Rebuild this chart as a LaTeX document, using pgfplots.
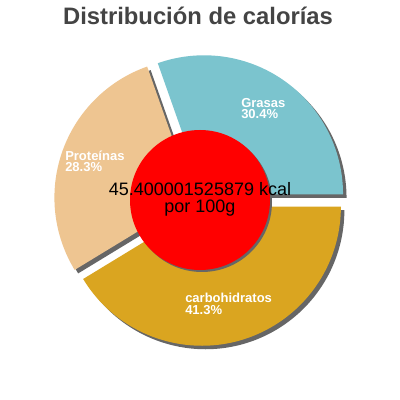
\documentclass[border=0pt]{standalone}
\usepackage{fontspec}
\setmainfont{Liberation Sans}
\usepackage{pgfplots}
\pgfplotsset{compat=1.18}

\definecolor{grasas}{RGB}{123,196,206}
\definecolor{prot}{RGB}{238,197,145}
\definecolor{carb}{RGB}{218,165,32}
\definecolor{shadowc}{RGB}{102,102,102}
\definecolor{titlec}{RGB}{68,68,68}

% data (percent of calories)
\def\vGrasas{30.4}
\def\vProt{28.3}
\def\vCarb{41.3}

% angles, 1 unit = 1px, pie centre (200,200)
\def\R{104.25pt}   % 139px
\def\gap{7}
\pgfmathsetmacro\aA{0}
\pgfmathsetmacro\aB{3.6*\vGrasas}
\pgfmathsetmacro\aC{\aB+3.6*\vProt}
\pgfmathsetmacro\aD{\aC+3.6*\vCarb}
\pgfmathsetmacro\gx{200+\gap*cos((\aA+\aB)/2)}
\pgfmathsetmacro\gy{200+\gap*sin((\aA+\aB)/2)}
\pgfmathsetmacro\px{200+\gap*cos((\aB+\aC)/2)}
\pgfmathsetmacro\py{200+\gap*sin((\aB+\aC)/2)}
\pgfmathsetmacro\cx{200+\gap*cos((\aC+\aD)/2)}
\pgfmathsetmacro\cy{200+\gap*sin((\aC+\aD)/2)}

\newcommand\slice[5]{%
  \fill[#5] (axis cs:#1,#2) -- ++(#3:\R) arc[start angle=#3,end angle=#4,radius=\R] -- cycle;}

\begin{document}
\begin{tikzpicture}
\begin{axis}[
    width=300pt, height=300pt,
    scale only axis,
    xmin=0, xmax=400, ymin=0, ymax=400,
    hide axis,
    clip=false,
]
\fill[white] (axis cs:0,0) rectangle (axis cs:400,400);

% shadows
\slice{\gx+3.5}{\gy-3.5}{\aA}{\aB}{shadowc}
\slice{\px+3.5}{\py-3.5}{\aB}{\aC}{shadowc}
\slice{\cx+3.5}{\cy-3.5}{\aC}{\aD}{shadowc}
% slices
\slice{\gx}{\gy}{\aA}{\aB}{grasas}
\slice{\px}{\py}{\aB}{\aC}{prot}
\slice{\cx}{\cy}{\aC}{\aD}{carb}

% centre disc
\fill[shadowc] (axis cs:202,198) circle[radius=52.5pt];
\fill[red] (axis cs:200,200) circle[radius=52.5pt];

\node[anchor=base, font=\fontsize{13.5pt}{15pt}\selectfont] at (axis cs:200,204.3) {45.400001525879 kcal};
\node[anchor=base, font=\fontsize{13.5pt}{15pt}\selectfont] at (axis cs:200,187.3) {por 100g};

% labels
\begin{scope}[every node/.style={anchor=base west, inner sep=0pt, text=white,
    font=\fontsize{9.75pt}{11pt}\selectfont\bfseries}]
\node at (axis cs:241,292) {Grasas};
\node at (axis cs:241,281) {30.4\%};
\node at (axis cs:65,239.3) {Proteínas};
\node at (axis cs:65,228.3) {28.3\%};
\node at (axis cs:185,97) {carbohidratos};
\node at (axis cs:185,85) {41.3\%};
\end{scope}

\node[anchor=base, text=titlec, font=\fontsize{17.85pt}{20pt}\selectfont\bfseries]
  at (axis cs:198,375) {Distribución de calorías};
\end{axis}
\end{tikzpicture}
\end{document}
